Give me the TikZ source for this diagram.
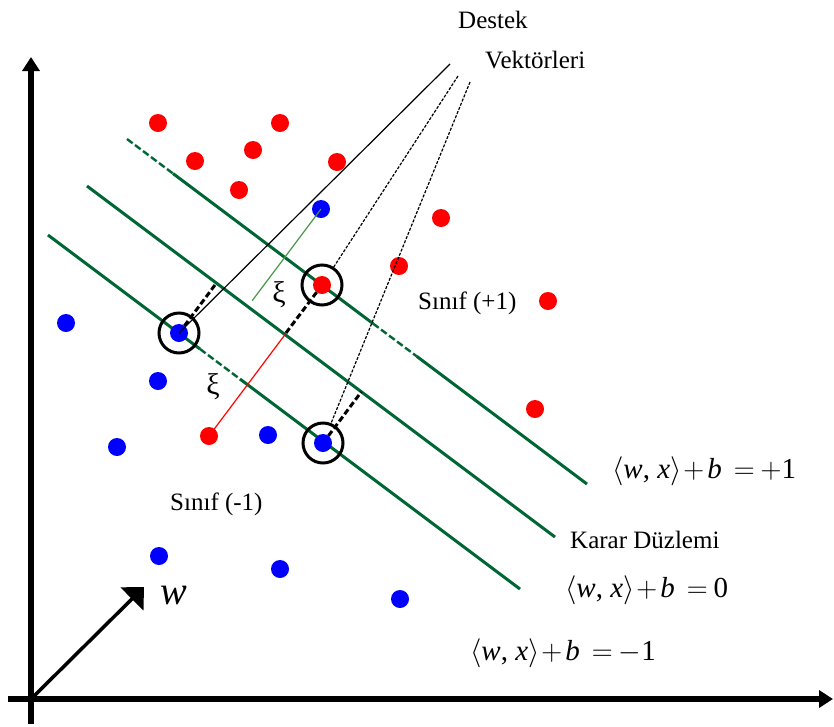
\RequirePackage{fix-cm}
\documentclass[tikz,border=0pt]{standalone}
\usepackage{fontspec}
\setmainfont{Liberation Serif}
\usetikzlibrary{arrows.meta,calc}
\definecolor{dgreen}{RGB}{0,102,51}
\definecolor{lgreen}{RGB}{70,150,70}
\newcommand{\svmeq}[1]{$\bigl\langle$\textit{w}, \textit{x}$\bigr\rangle$\hspace{2pt}$+$\hspace{3pt}\textit{b}\hspace{12pt}$=$\hspace{6pt}#1}
\begin{document}
\begin{tikzpicture}[x=1pt,y=-1pt,
  rdot/.style={circle,fill=red,inner sep=0pt,minimum size=18pt},
  bdot/.style={circle,fill=blue,inner sep=0pt,minimum size=18pt},
  svring/.style={circle,draw=black,line width=3pt,inner sep=0pt,minimum size=40pt},
  hyper/.style={draw=dgreen,line width=3pt},
  hyperdash/.style={draw=dgreen,line width=2.4pt,dash pattern=on 7pt off 3pt},
  axisline/.style={line width=6pt,-{Triangle[length=14pt,width=17pt]}},
  leader/.style={draw=black,line width=1.2pt},
  leaderdash/.style={draw=black,line width=1.2pt,dash pattern=on 3pt off 1.5pt},
  gapdash/.style={draw=black,line width=3pt,dash pattern=on 6pt off 3pt},
  lbl/.style={inner sep=0pt,anchor=base west,font=\fontsize{25}{30}\selectfont},
  eq/.style={inner sep=0pt,anchor=base west,font=\fontsize{29}{32}\selectfont},
  xilbl/.style={inner sep=0pt,font=\fontsize{30}{34}\selectfont}]
\useasboundingbox (0,0) rectangle (834,726);

% axes
\coordinate (O) at (31,699);
\coordinate (ybot) at (31,724);
\coordinate (ytop) at (31,57);
\coordinate (xl) at (8,699);
\coordinate (xr) at (833,699);
\draw[axisline] (ybot) -- (ytop);
\draw[axisline] (xl) -- (xr);
\coordinate (wtip) at (144,587);
\draw[line width=3.5pt,-{Triangle[length=17pt,width=32pt]}] (O) -- (wtip);
\node[inner sep=0pt,font=\fontsize{40}{44}\selectfont\itshape] (wl) at (174,596) {w};

% hyperplanes
\coordinate (ps) at (127,139); \coordinate (pe) at (587,484);
\coordinate (zs) at (87,186);  \coordinate (ze) at (555,537);
\coordinate (ns) at (48,235);  \coordinate (ne) at (520,589);
\draw[hyperdash] (ps) -- ($(ps)!0.1!(pe)$);
\draw[hyper] ($(ps)!0.1!(pe)$) -- ($(ps)!0.535!(pe)$);
\draw[hyperdash] ($(ps)!0.535!(pe)$) -- ($(ps)!0.63!(pe)$);
\draw[hyper] ($(ps)!0.63!(pe)$) -- (pe);
\draw[hyper] (zs) -- (ze);
\draw[hyper] (ns) -- ($(ns)!0.322!(ne)$);
\draw[hyperdash] ($(ns)!0.322!(ne)$) -- ($(ns)!0.407!(ne)$);
\draw[hyper] ($(ns)!0.407!(ne)$) -- (ne);

% points
\node[rdot] (r1) at (158,123) {};
\node[rdot] (r2) at (280,123) {};
\node[rdot] (r3) at (195,161) {};
\node[rdot] (r4) at (253,150) {};
\node[rdot] (r5) at (239,190) {};
\node[rdot] (r6) at (337,162) {};
\node[rdot] (r7) at (441,218) {};
\node[rdot] (r8) at (399,266) {};
\node[rdot] (r9) at (548,301) {};
\node[rdot] (r10) at (535,409) {};
\node[rdot] (rx) at (209,436) {};
\node[bdot] (bx) at (321,209) {};
\node[bdot] (b1) at (66,323) {};
\node[bdot] (b2) at (158,381) {};
\node[bdot] (b3) at (117,447) {};
\node[bdot] (b4) at (268,435) {};
\node[bdot] (b5) at (159,556) {};
\node[bdot] (b6) at (280,569) {};
\node[bdot] (b7) at (400,599) {};

% support vectors (centres)
\coordinate (c1) at (179,333);
\coordinate (c2) at (322,285);
\coordinate (c3) at (323,443);

% feet on decision plane
\coordinate (f1) at ($(zs)!(c1)!(ze)$);
\coordinate (f2) at ($(zs)!(c2)!(ze)$);
\coordinate (f3) at ($(zs)!(c3)!(ze)$);
\coordinate (f4) at ($(zs)!(rx.center)!(ze)$);
\coordinate (f5) at ($(zs)!(bx.center)!(ze)$);

% slack lines
\draw[red,line width=1.2pt] (rx.center) -- (f4);
\draw[lgreen,line width=1.2pt] (bx.center) -- ($(bx.center)!0.94!(f5)$);

% margin dashes
\draw[gapdash] (c1) -- (f1);
\draw[gapdash] (c2) -- (f2);
\draw[gapdash] (c3) -- (f3);

% support vectors
\node[bdot] (sv1) at (c1) {};
\node[rdot] (sv2) at (c2) {};
\node[bdot] (sv3) at (c3) {};
\node[svring] (sv1r) at (c1) {};
\node[svring] (sv2r) at (c2) {};
\node[svring] (sv3r) at (c3) {};

% leaders
\coordinate (L1) at (450,64);
\coordinate (L2) at (458,76);
\coordinate (L3) at (470,82);
\draw[leader] (L1) -- (sv1.center);
\draw[leaderdash] (L2) -- (sv2r);
\draw[leaderdash] (L3) -- (sv3r);

% xi labels
\node[xilbl] (xi1) at (279,295) {ξ};
\node[xilbl] (xi2) at (213,387) {ξ};

% text labels
\node[lbl] (t1) at (458,28) {Destek};
\node[lbl] (t2) at (485,68) {Vektörleri};
\node[lbl] (t3) at (418,309) {Sınıf (+1)};
\node[lbl] (t4) at (170,510) {Sınıf (-1)};
\node[lbl] (t5) at (570,548) {Karar Düzlemi};

% equations
\node[eq] (e1) at (612,478) {\svmeq{$+$1}};
\node[eq] (e2) at (565,597) {\svmeq{0}};
\node[eq] (e3) at (470,660) {\svmeq{$-$1}};
\end{tikzpicture}
\end{document}
